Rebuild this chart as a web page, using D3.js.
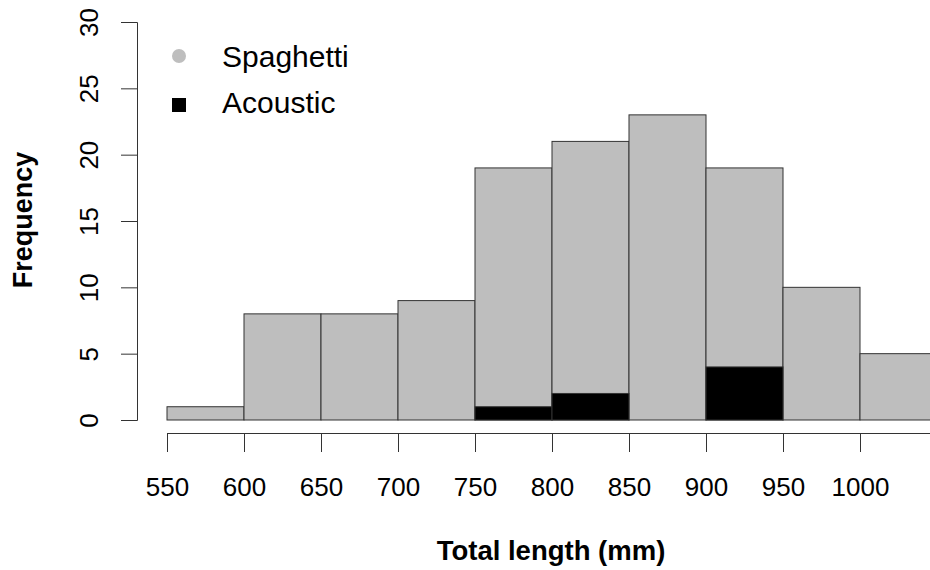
<!DOCTYPE html>
<html>
<head>
<meta charset="utf-8">
<script src="https://cdn.jsdelivr.net/npm/d3@7"></script>
<style>
  body { margin: 0; background: #fff; }
  svg { font-family: "Liberation Sans", Arial, Helvetica, sans-serif; }
</style>
</head>
<body>
<svg width="930" height="570"></svg>
<script>
// bin edges and counts
const binStarts = [550, 600, 650, 700, 750, 800, 850, 900, 950, 1000];
const binWidth = 50;
const spaghetti = [1, 8, 8, 9, 19, 21, 23, 19, 10, 5];
const acoustic = [0, 0, 0, 0, 1, 2, 0, 4, 0, 0];
const xTicks = [550, 600, 650, 700, 750, 800, 850, 900, 950, 1000];
const yTicks = [0, 5, 10, 15, 20, 25, 30];
const legendItems = ['Spaghetti', 'Acoustic'];

const svg = d3.select('svg');

const scX = d3.scaleLinear().domain([550, 1000]).range([167, 860]);
const scY = d3.scaleLinear().domain([0, 30]).range([420, 22]);

const bars = svg.append('g');
const drawBars = (vals, fill) => {
  bars.append('g').selectAll('rect').data(vals).enter()
    .append('rect')
    .attr('x', (d, i) => scX(binStarts[i]))
    .attr('width', (d, i) => scX(binStarts[i] + binWidth) - scX(binStarts[i]))
    .attr('y', d => scY(d))
    .attr('height', d => scY(0) - scY(d))
    .attr('fill', fill)
    .attr('stroke', '#333')
    .attr('stroke-width', 1);
};
drawBars(spaghetti, '#bebebe');
drawBars(acoustic, '#000');

// y axis
const axY = svg.append('g')
  .attr('transform', 'translate(137,0)')
  .call(d3.axisLeft(scY).tickValues(yTicks).tickSize(16).tickPadding(0));
axY.select('.domain').attr('stroke', '#333');
axY.selectAll('.tick line').attr('stroke', '#333');
axY.selectAll('.tick text').remove();
axY.selectAll('.tick').append('text')
  .attr('transform', 'translate(-39,0) rotate(-90)')
  .attr('text-anchor', 'middle')
  .attr('fill', '#000')
  .style('font-size', '26px')
  .text(d => d);

// x axis (runs off the right edge)
const scXAxis = scX.copy().domain([550, 1100]).range([167, scX(1100)]);
const axX = svg.append('g')
  .attr('transform', 'translate(0,433)')
  .call(d3.axisBottom(scXAxis).tickValues(xTicks).tickSize(19).tickSizeOuter(0).tickPadding(0).tickFormat(d3.format('d')));
axX.select('.domain').attr('stroke', '#333');
axX.selectAll('.tick line').attr('stroke', '#333');
axX.selectAll('.tick text')
  .attr('y', 63)
  .attr('dy', 0)
  .attr('fill', '#000')
  .style('font-size', '26px');

// axis titles
svg.append('text')
  .attr('x', 551).attr('y', 560)
  .attr('text-anchor', 'middle')
  .style('font-size', '27.5px').style('font-weight', 'bold')
  .text('Total length (mm)');
svg.append('text')
  .attr('transform', 'translate(32,220) rotate(-90)')
  .attr('text-anchor', 'middle')
  .style('font-size', '27px').style('font-weight', 'bold')
  .text('Frequency');

// legend
const lg = svg.append('g');
lg.append('circle').attr('cx', 179).attr('cy', 56).attr('r', 7).attr('fill', '#bebebe');
lg.append('rect').attr('x', 172).attr('y', 98).attr('width', 14).attr('height', 14).attr('fill', '#000');
lg.selectAll('text').data(legendItems).enter()
  .append('text')
  .attr('x', 222)
  .attr('y', (d, i) => 67 + i * 46)
  .style('font-size', '30px')
  .text(d => d);
</script>
</body>
</html>
